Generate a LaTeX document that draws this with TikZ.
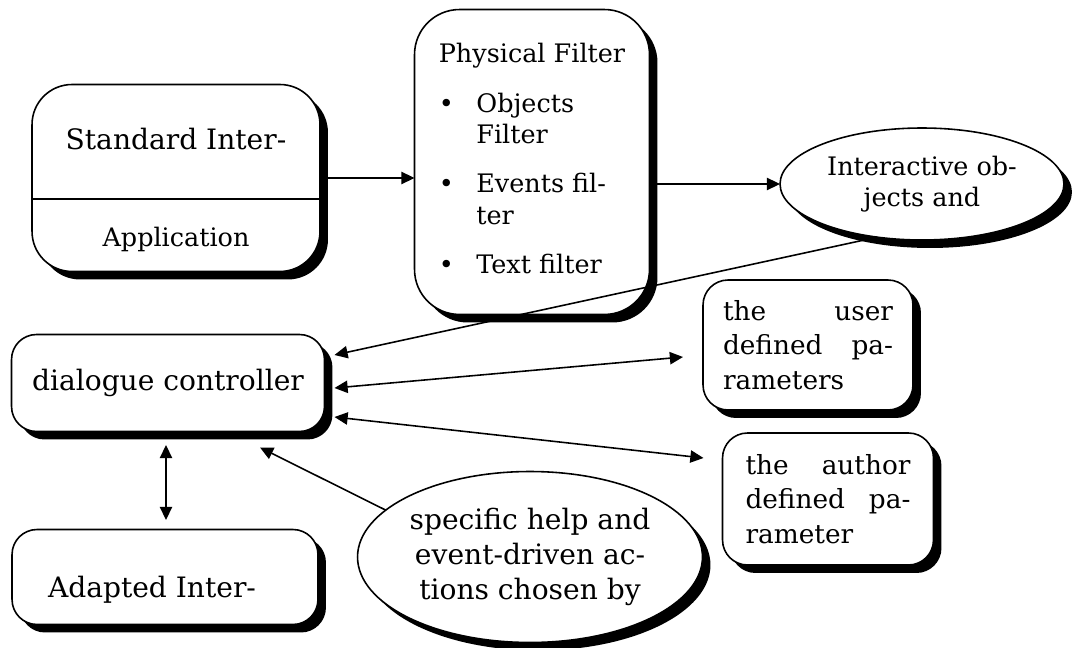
\documentclass[tikz,border=0pt]{standalone}
\usepackage{fontspec}
\setmainfont{DejaVu Serif}
\usetikzlibrary{shapes.geometric,shadows,arrows.meta}
\newlength{\mydrawlinewidth}
\setlength{\mydrawlinewidth}{0.9pt}
\newlength{\myshadowshift}
\setlength{\myshadowshift}{0.16cm}

\begin{document}
\begin{tikzpicture}[%
        x=0.02cm,y=-0.02cm,%
        >={Triangle[length=7.5pt,width=7pt]},%
        shadowed/.style={
            draw,fill=white,
            line width=\mydrawlinewidth,
            inner sep=0pt,outer sep=0pt,
            font=\fontsize{14.5}{18}\selectfont,
            drop shadow={shadow xshift=\myshadowshift,shadow yshift=-\myshadowshift,fill=black,opacity=1},
            },
        roundbox/.style={shadowed,rectangle,rounded corners=0.5cm},
        ovalbox/.style={shadowed,ellipse,align=center},
        bigfont/.style={font=\fontsize{16}{20}\selectfont},
        link/.style={line width=\mydrawlinewidth},
    ]
    \useasboundingbox (0,0) rectangle (1072,648);

    \node[roundbox,minimum width=5.76cm,minimum height=3.74cm,rounded corners=0.8cm] (std) at (176,178) {};
    \node[bigfont,anchor=base] (stdtop) at (176,150) {Standard Inter-};
    \node[font=\fontsize{14.5}{18}\selectfont,anchor=base] (stdbot) at (176,247) {Application};
    \draw[link] (std.west |- 0,199) -- (std.east |- 0,199);

    \node[roundbox,minimum width=4.7cm,minimum height=6.1cm,rounded corners=0.9cm] (phys) at (532,162) {%
        \raisebox{-0.1cm}{\begin{tabular}{@{}l@{\hspace{0.45cm}}l@{}}
        \multicolumn{2}{@{}l@{}}{Physical Filter}\\[10pt]
        \textbullet & Objects\\
                    & Filter\\[10pt]
        \textbullet & Events fil-\\
                    & ter\\[10pt]
        \textbullet & Text filter
        \end{tabular}}};

    \node[ovalbox,minimum width=5.68cm,minimum height=2.24cm] (inter) at (922,184) {Interactive ob-\\jects and};

    \node[roundbox,bigfont,minimum width=6.26cm,minimum height=1.94cm] (dia) at (168,383) {dialogue controller};

    \node[roundbox,minimum width=4.2cm,minimum height=2.6cm,align=left,font=\fontsize{15}{19.5}\selectfont] (user) at (808,345) {%
        \makebox[3.4cm][s]{the user}\\
        \makebox[3.4cm][s]{defined pa-}\\
        \makebox[3.4cm][l]{rameters}};

    \node[roundbox,minimum width=4.22cm,minimum height=2.64cm,align=left,font=\fontsize{15}{19.5}\selectfont] (author) at (828,499) {%
        \makebox[3.3cm][s]{the author}\\
        \makebox[3.3cm][s]{defined pa-}\\
        \makebox[3.3cm][l]{rameter}};

    \node[roundbox,minimum width=6.12cm,minimum height=1.9cm] (ada) at (165,577) {};
    \node[bigfont,anchor=base] (adatext) at (152,597) {Adapted Inter-};

    \node[ovalbox,bigfont,minimum width=6.9cm,minimum height=3.42cm] (help) at (530,557) {specific help and\\event-driven ac-\\tions chosen by};

    \draw[link,->] (std.east) -- (std.east -| phys.west);
    \draw[link,->] (phys.east |- inter.west) -- (inter.west);
    \draw[link,->] (inter.230) -- ([shift={(10,-28)}]dia.east);
    \draw[link,<->] ([shift={(10,5)}]dia.east) -- ([shift={(-20,12)}]user.west);
    \draw[link,<->] ([shift={(10,34)}]dia.east) -- ([shift={(-19,-41)}]author.west);
    \draw[link,<->] ([shift={(-2,13.5)}]dia.south) -- ([shift={(1,-9.5)}]ada.north);
    \draw[link,->] (help.162) -- ([shift={(92,16)}]dia.south);
\end{tikzpicture}
\end{document}
